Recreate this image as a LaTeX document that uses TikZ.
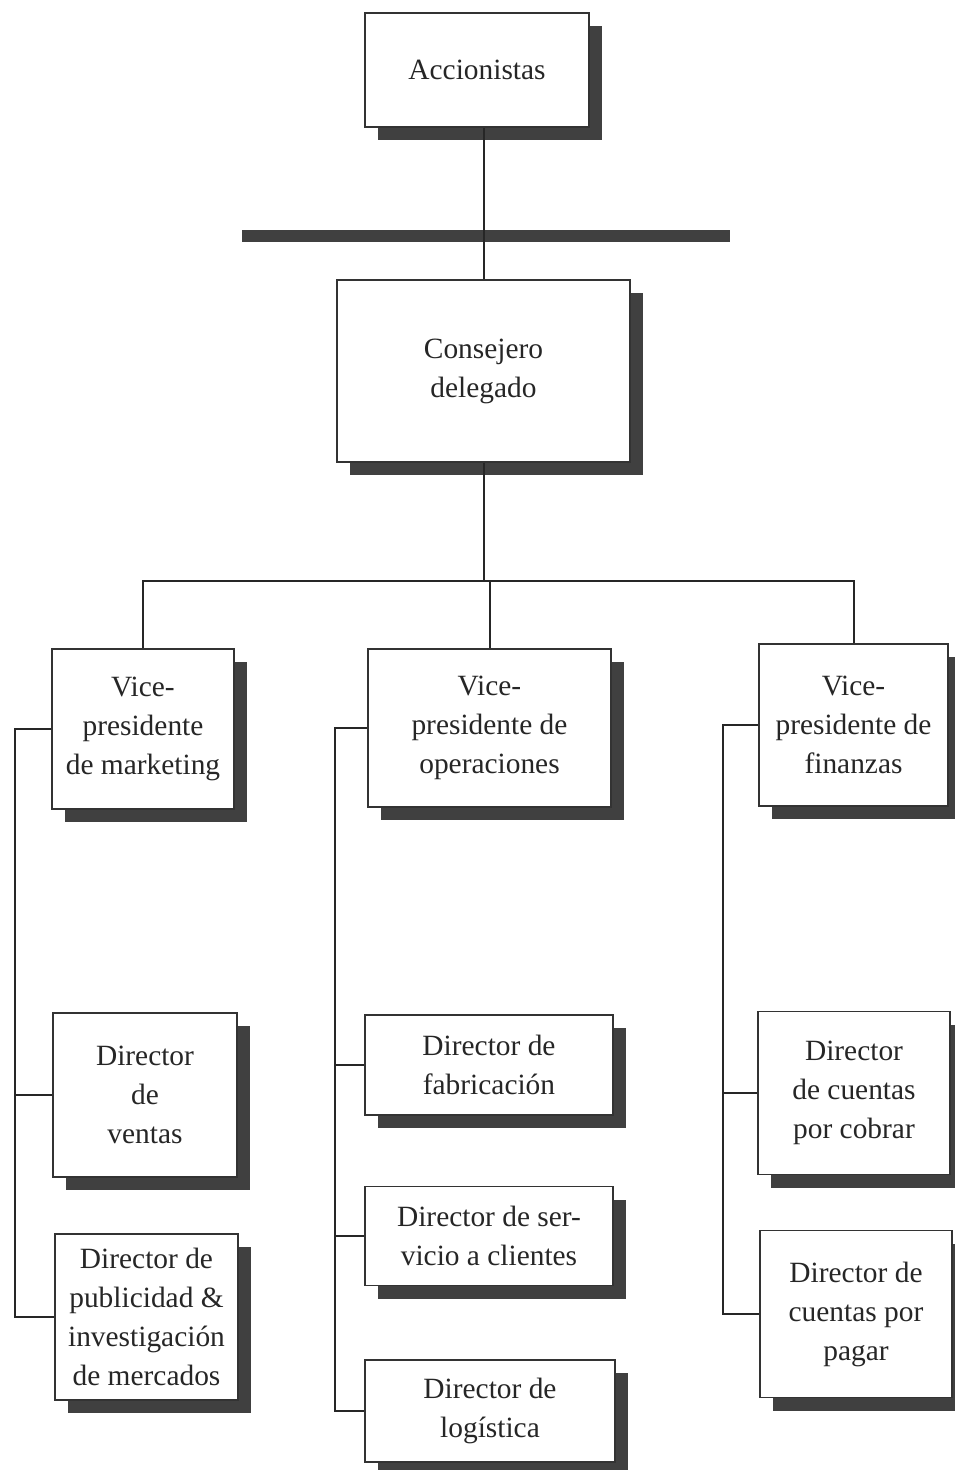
\documentclass[tikz,border=0pt]{standalone}
\usepackage{fontspec}
\setmainfont{Liberation Serif}
\usetikzlibrary{shadows,calc}
\begin{document}
\begin{tikzpicture}[x=0.5pt,y=-0.5pt,
  box/.style={draw=black!80, line width=0.6pt, fill=white, align=center, inner sep=0pt,
    text=black!85, font=\fontsize{14.7}{19.5}\selectfont,
    drop shadow={shadow xshift=6.5pt, shadow yshift=-6.5pt, fill=black!75, opacity=1}},
  conn/.style={draw=black!85, line width=1pt}]
\useasboundingbox (0,0) rectangle (954,1470);
% top
\node[box, minimum width=112pt, minimum height=57pt] (acc) at (477,70) {Accionistas};
\node[fill=black!75, inner sep=0pt, minimum width=244pt, minimum height=6pt] (bar) at (486,236) {};
\node[box, minimum width=146.5pt, minimum height=91pt] (cons) at (483.5,371) {Consejero\\delegado};
% vice presidents
\node[box, minimum width=91pt, minimum height=80pt] (vpm) at (143,729) {Vice-\\presidente\\de marketing};
\node[box, minimum width=121.5pt, minimum height=79pt] (vpo) at (489.5,728) {Vice-\\presidente de\\operaciones};
\node[box, minimum width=94.5pt, minimum height=81pt] (vpf) at (853.5,725) {Vice-\\presidente de\\finanzas};
% directors marketing
\node[box, minimum width=92pt, minimum height=82pt] (dv) at (145,1095) {Director\\de\\ventas};
\node[box, minimum width=91.5pt, minimum height=83pt] (pub) at (146.5,1317) {Director de\\publicidad \&\\investigación\\de mercados};
% directors operations
\node[box, minimum width=124pt, minimum height=50pt] (fab) at (489,1065) {Director de\\fabricación};
\node[box, minimum width=124pt, minimum height=49.5pt] (serv) at (489,1236) {Director de ser-\\vicio a clientes};
\node[box, minimum width=125pt, minimum height=51pt] (log) at (490,1411) {Director de\\logística};
% directors finance
\node[box, minimum width=96pt, minimum height=81.5pt] (cob) at (854,1093) {Director\\de cuentas\\por cobrar};
\node[box, minimum width=96pt, minimum height=83.5pt] (pag) at (856,1314) {Director de\\cuentas por\\pagar};
% connectors
\draw[conn] (cons.north) -- (cons.north |- acc.south);
\coordinate (hub) at ($(cons.south)+(0,118)$);
\draw[conn] (cons.south) -- (hub);
\draw[conn] (hub) -- (hub -| vpo.north) -- (vpo.north);
\draw[conn] (vpm.north) |- (hub) -| (vpf.north);
\coordinate (bm) at (15,729);
\coordinate (bo) at (335,728);
\coordinate (bf) at (723,725);
\draw[conn] (vpm.west) -- (bm) |- (pub.west);
\draw[conn] (dv.west) -- (dv.west -| bm);
\draw[conn] (vpo.west) -- (bo) |- (log.west);
\draw[conn] (fab.west) -- (fab.west -| bo);
\draw[conn] (serv.west) -- (serv.west -| bo);
\draw[conn] (vpf.west) -- (bf) |- (pag.west);
\draw[conn] (cob.west) -- (cob.west -| bf);
\end{tikzpicture}
\end{document}
